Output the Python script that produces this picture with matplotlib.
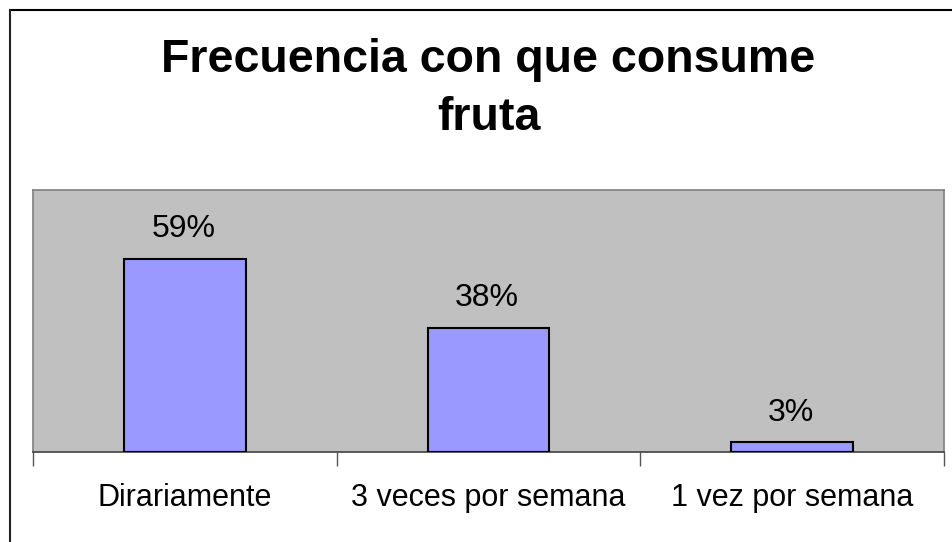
"""
Frecuencia con que consume fruta - gráfico de barras estilo Excel.
"""
import matplotlib
matplotlib.use("Agg")
import matplotlib.pyplot as plt
from matplotlib.lines import Line2D

plt.rcParams["font.family"] = ["Liberation Sans", "DejaVu Sans"]

# datos
categorias = ["Dirariamente", "3 veces por semana", "1 vez por semana"]
porcentajes = [59, 38, 3]
titulo = "Frecuencia con que consume\nfruta"

W, H = 952, 542
fig = plt.figure(figsize=(W / 100, H / 100), dpi=100)
fig.patch.set_facecolor("white")

# marco exterior (solo arriba e izquierda visibles)
fig.add_artist(Line2D([10 / W, 1.0], [1 - 10 / H, 1 - 10 / H],
                      transform=fig.transFigure, color="black", lw=1.5))
fig.add_artist(Line2D([10 / W, 10 / W], [0.0, 1 - 10 / H],
                      transform=fig.transFigure, color="#222222", lw=1.5))

# área de trazado
x0, x1, ytop, ybot = 33, 944, 190, 452
ax = fig.add_axes([x0 / W, 1 - ybot / H, (x1 - x0) / W, (ybot - ytop) / H])
ax.set_facecolor("#C0C0C0")

pos = list(range(len(categorias)))
bars = ax.bar(pos, porcentajes, width=0.4, color="#9999FF",
              edgecolor="black", linewidth=1.5, zorder=3)

for b, v in zip(bars, porcentajes):
    ax.annotate(f"{v}%", (b.get_x() + b.get_width() / 2, b.get_height()),
                xytext=(-1, 10.5), textcoords="offset points",
                ha="center", va="bottom", fontsize=23)

ax.set_xlim(-0.5, len(categorias) - 0.5)
ax.set_ylim(0, 80)
ax.set_yticks([])

# ticks en los límites de categoría, etiquetas centradas
ax.set_xticks([p - 0.5 for p in range(len(categorias) + 1)])
ax.set_xticklabels([])
ax.set_xticks(pos, minor=True)
ax.set_xticklabels(categorias, minor=True, fontsize=22)
ax.tick_params(axis="x", which="major", length=10, width=1, color="#555555",
               direction="out")
ax.tick_params(axis="x", which="minor", length=0, pad=22.5)

for s in ["top", "left", "right"]:
    ax.spines[s].set_color("#808080")
    ax.spines[s].set_linewidth(1.2)
ax.spines["bottom"].set_color("#404040")
ax.spines["bottom"].set_linewidth(1.2)

# título
fig.text((x0 + x1) / 2 / W, 1 - 38 / H, titulo, ha="center", va="top",
         fontsize=33.5, fontweight="bold", linespacing=1.42)

fig.savefig("out.png", dpi=100)
